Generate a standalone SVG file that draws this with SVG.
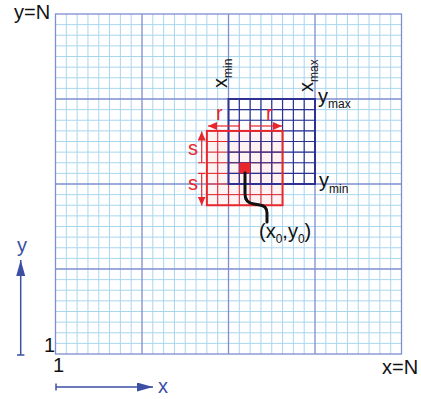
<svg xmlns="http://www.w3.org/2000/svg" width="421" height="399" viewBox="0 0 421 399">
<style>
text{font-family:"Liberation Sans",Arial,sans-serif;font-size:20px;fill:#111}
.minor{stroke:#a9d6ef;stroke-width:1;fill:none}
.major{stroke:#7d8fcf;stroke-width:1.3;fill:none}
.blue{stroke:#2e3192;fill:none}
.red{stroke:#e8262b;fill:none}
.redt{fill:#e8262b}
.bluet{fill:#3b4fa3}
.sub{font-size:12px}
</style>
<defs>
<marker id="rh" markerUnits="userSpaceOnUse" markerWidth="10" markerHeight="8" refX="9" refY="4" orient="auto">
<path d="M0,0L9,4L0,8Z" fill="#e8262b"/>
</marker>
<marker id="bh" markerUnits="userSpaceOnUse" markerWidth="17" markerHeight="9" refX="16" refY="4.5" orient="auto">
<path d="M0,0L16,4.5L0,9Z" fill="#3b4fa3"/>
</marker>
</defs>
<rect width="421" height="399" fill="#fff"/>
<g id="grid">
<path class="minor" d="M66.31 14V354M77.13 14V354M87.94 14V354M98.75 14V354M109.56 14V354M120.38 14V354M131.19 14V354M152.81 14V354M163.63 14V354M174.44 14V354M185.25 14V354M196.06 14V354M206.88 14V354M217.69 14V354M239.31 14V354M250.13 14V354M260.94 14V354M271.75 14V354M282.56 14V354M293.38 14V354M304.19 14V354M325.81 14V354M336.63 14V354M347.44 14V354M358.25 14V354M369.06 14V354M379.88 14V354M390.69 14V354
M55.5 24.63H401.5M55.5 35.25H401.5M55.5 45.88H401.5M55.5 56.5H401.5M55.5 67.13H401.5M55.5 77.75H401.5M55.5 88.38H401.5M55.5 109.63H401.5M55.5 120.25H401.5M55.5 130.88H401.5M55.5 141.5H401.5M55.5 152.13H401.5M55.5 162.75H401.5M55.5 173.38H401.5M55.5 194.63H401.5M55.5 205.25H401.5M55.5 215.88H401.5M55.5 226.5H401.5M55.5 237.13H401.5M55.5 247.75H401.5M55.5 258.38H401.5M55.5 279.63H401.5M55.5 290.25H401.5M55.5 300.88H401.5M55.5 311.5H401.5M55.5 322.13H401.5M55.5 332.75H401.5M55.5 343.38H401.5"/>
<path class="major" d="M142 14V354M228.5 14V354M315 14V354M55.5 99H401.5M55.5 184H401.5M55.5 269H401.5"/>
<rect class="major" x="55.5" y="14" width="346" height="340"/>
</g>
<g id="red-box">
<rect x="206.88" y="130.88" width="75.68" height="74.37" fill="#e8262b" fill-opacity="0.06"/>
<path class="red" stroke-width="1" d="M217.69 130.88V205.25M228.5 130.88V205.25M239.31 130.88V205.25M250.13 130.88V205.25M260.94 130.88V205.25M271.75 130.88V205.25M206.88 141.5H282.56M206.88 152.13H282.56M206.88 162.75H282.56M206.88 173.38H282.56M206.88 184H282.56M206.88 194.63H282.56"/>
</g>
<g id="blue-box">
<path class="blue" stroke-width="1.2" d="M239.31 99V184M250.13 99V184M260.94 99V184M271.75 99V184M282.56 99V184M293.38 99V184M304.19 99V184M228.5 109.63H315M228.5 120.25H315M228.5 130.88H315M228.5 141.5H315M228.5 152.13H315M228.5 162.75H315M228.5 173.38H315"/>
<rect class="blue" stroke-width="2" x="228.5" y="99" width="86.5" height="85"/>
</g>
<g id="red-box-outline">
<rect class="red" stroke-width="2" x="206.88" y="130.88" width="75.68" height="74.37"/>
</g>
<g id="point">
<rect x="239.31" y="162.75" width="10.82" height="10.63" fill="#e8262b"/>
</g>
<g id="connectors">
<path d="M245 173V194Q245 203 254 204L260 205Q267 206 267 213V222" fill="none" stroke="#111" stroke-width="3" stroke-linecap="round"/>
<path class="red" stroke-width="1.2" d="M239.31 126H208" marker-end="url(#rh)"/>
<path class="red" stroke-width="1.2" d="M250.13 126H282" marker-end="url(#rh)"/>
<path class="red" stroke-width="1.2" d="M239.31 122.5V129.5M250.13 122.5V129.5"/>
<path class="red" stroke-width="1.2" d="M201.7 162.75V131.5" marker-end="url(#rh)"/>
<path class="red" stroke-width="1.2" d="M201.7 173.38V205.5" marker-end="url(#rh)"/>
<path class="red" stroke-width="1.2" d="M198 162.75H205.4M198 173.38H205.4"/>
<path stroke="#3b4fa3" stroke-width="1.5" fill="none" d="M20.7 355V260" marker-end="url(#bh)"/>
<path stroke="#3b4fa3" stroke-width="1.5" fill="none" d="M17 355H24.4"/>
<path stroke="#3b4fa3" stroke-width="1.5" fill="none" d="M56 387H153" marker-end="url(#bh)"/>
<path stroke="#3b4fa3" stroke-width="1.5" fill="none" d="M56 383.5V390.5"/>
</g>
<g id="labels">
<text x="14" y="19">y=N</text>
<text x="44" y="352">1</text>
<text x="53" y="372">1</text>
<text x="382" y="374">x=N</text>
<text x="17" y="252" class="bluet">y</text>
<text x="158" y="393" class="bluet">x</text>
<text transform="translate(227,88) rotate(-90)">x<tspan class="sub" dy="5">min</tspan></text>
<text transform="translate(313,92) rotate(-90)">x<tspan class="sub" dy="5">max</tspan></text>
<text x="318" y="103">y<tspan class="sub" dy="5">max</tspan></text>
<text x="319" y="187">y<tspan class="sub" dy="6">min</tspan></text>
<text x="216" y="120" class="redt">r</text>
<text x="266" y="120" class="redt">r</text>
<text x="188" y="155" class="redt">s</text>
<text x="188" y="190" class="redt">s</text>
<text x="259" y="238">(x<tspan class="sub" dy="5">0</tspan><tspan dy="-5">,y</tspan><tspan class="sub" dy="5">0</tspan><tspan dy="-5">)</tspan></text>
</g>
</svg>
